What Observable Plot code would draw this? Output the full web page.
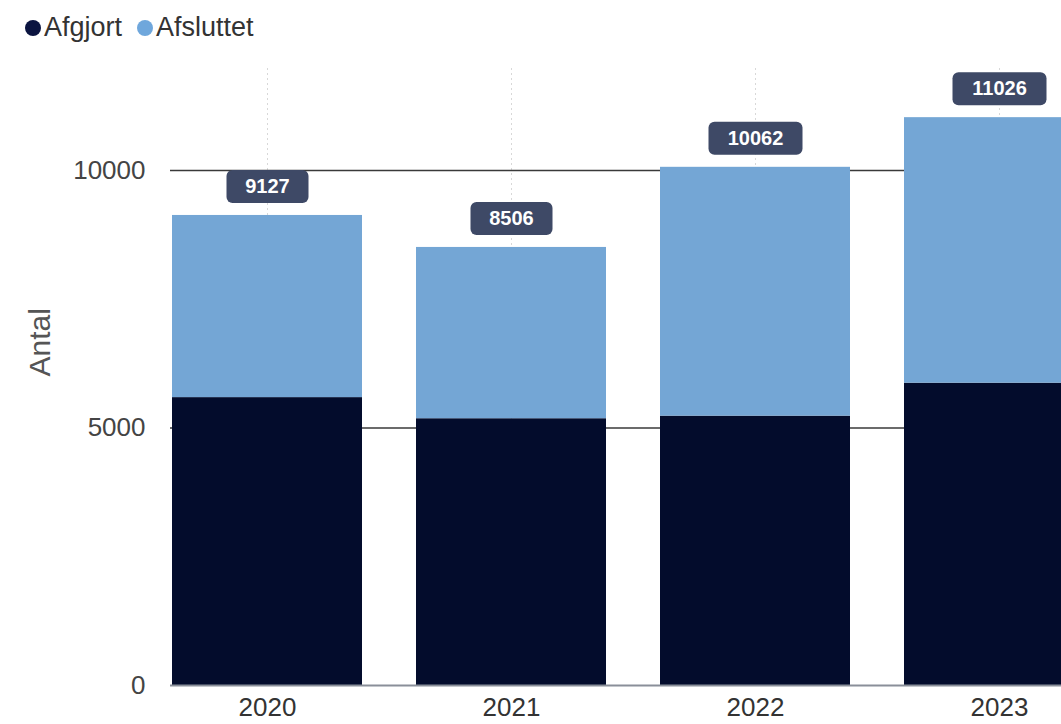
<!DOCTYPE html>
<html>
<head>
<meta charset="utf-8">
<script src="https://cdn.jsdelivr.net/npm/d3@7"></script>
<script src="https://cdn.jsdelivr.net/npm/@observablehq/plot@0.6"></script>
<style>
  html, body { margin: 0; padding: 0; background: #fff; overflow: hidden; width: 1061px; height: 724px; }
  #legend { height: 56px; position: relative; font-family: "Liberation Sans", Arial, sans-serif; font-size: 27px; color: #333; }
  .item { position: absolute; top: 12px; display: flex; align-items: center; }
  .sw { display: inline-block; width: 16px; height: 16px; border-radius: 50%; margin-right: 3px; }
  #chart { width: 1100px; }
  #chart svg { display: block; overflow: visible; max-width: none !important; width: 1100px !important; height: 668px !important; }
</style>
</head>
<body>
<div id="legend"></div>
<div id="chart"></div>
<script>
const years = ["2020", "2021", "2022", "2023"];
const afgjort = [5590, 5180, 5230, 5870];
const afsluttet = [3537, 3326, 4832, 5156];
const totals = [9127, 8506, 10062, 11026];
const series = ["Afgjort", "Afsluttet"];
const colors = ["#030c2c", "#74a6d5"];
const yTicks = [0, 5000, 10000];

// legend
const legend = document.getElementById("legend");
const lpos = [25, 137];
series.forEach((s, i) => {
  const d = document.createElement("div");
  d.className = "item";
  d.style.left = lpos[i] + "px";
  d.innerHTML = `<span class="sw" style="background:${i === 0 ? "#0b1440" : "#6fa7dc"}"></span><span>${s}</span>`;
  legend.appendChild(d);
});

const rows = [];
years.forEach((y, i) => {
  rows.push({year: y, status: "Afgjort", value: afgjort[i]});
  rows.push({year: y, status: "Afsluttet", value: afsluttet[i]});
});
const labels = years.map((y, i) => ({year: y, total: totals[i], text: String(totals[i])}));

function roundRect(w, h, r) {
  return {
    draw(ctx) {
      const x0 = -w / 2, y0 = -h / 2, x1 = w / 2, y1 = h / 2;
      ctx.moveTo(x0 + r, y0);
      ctx.lineTo(x1 - r, y0);
      ctx.arcTo(x1, y0, x1, y0 + r, r);
      ctx.lineTo(x1, y1 - r);
      ctx.arcTo(x1, y1, x1 - r, y1, r);
      ctx.lineTo(x0 + r, y1);
      ctx.arcTo(x0, y1, x0, y1 - r, r);
      ctx.lineTo(x0, y0 + r);
      ctx.arcTo(x0, y0, x0 + r, y0, r);
      ctx.closePath();
    }
  };
}

const chart = Plot.plot({
  width: 1100,
  height: 668,
  marginLeft: 170,
  marginRight: 4,
  marginTop: 11,
  marginBottom: 39,
  style: {fontFamily: "'Liberation Sans', Arial, sans-serif", background: "#fff", overflow: "visible"},
  x: {domain: years, paddingInner: 0.22, paddingOuter: 0, label: null},
  y: {domain: [0, 12000], label: null},
  color: {domain: series, range: colors},
  marks: [
    Plot.ruleX(years, {x: d => d, y1: 0, y2: 12000, stroke: "#d8d8d8", strokeDasharray: "2,3", strokeWidth: 1}),
    Plot.ruleY(yTicks.filter(d => d > 0), {stroke: "#3a3a3a", strokeWidth: 1.6}),
    Plot.barY(rows, {x: "year", y: "value", fill: "status"}),
    Plot.ruleY([0], {stroke: "#8a8f99", strokeWidth: 2}),
    Plot.axisY({ticks: yTicks, tickFormat: d3.format("d"), tickSize: 0, tickPadding: 25, fontSize: 26, color: "#444", label: null}),
    Plot.axisX({tickSize: 0, tickPadding: 12, fontSize: 26, color: "#333", label: null}),
    Plot.text(["Antal"], {frameAnchor: "left", dx: -130, rotate: -90, fontSize: 30, fill: "#555"}),
    Plot.dot(labels.filter(d => d.text.length === 4), {x: "year", y: "total", dy: -29, r: 10, symbol: roundRect(82, 33, 6), fill: "#3e4966", stroke: "none"}),
    Plot.dot(labels.filter(d => d.text.length === 5), {x: "year", y: "total", dy: -29, r: 10, symbol: roundRect(94, 33, 6), fill: "#3e4966", stroke: "none"}),
    Plot.text(labels, {x: "year", y: "total", dy: -29, text: "text", fill: "#fff", fontSize: 20, fontWeight: "bold"})
  ]
});
document.getElementById("chart").appendChild(chart);
</script>
</body>
</html>
